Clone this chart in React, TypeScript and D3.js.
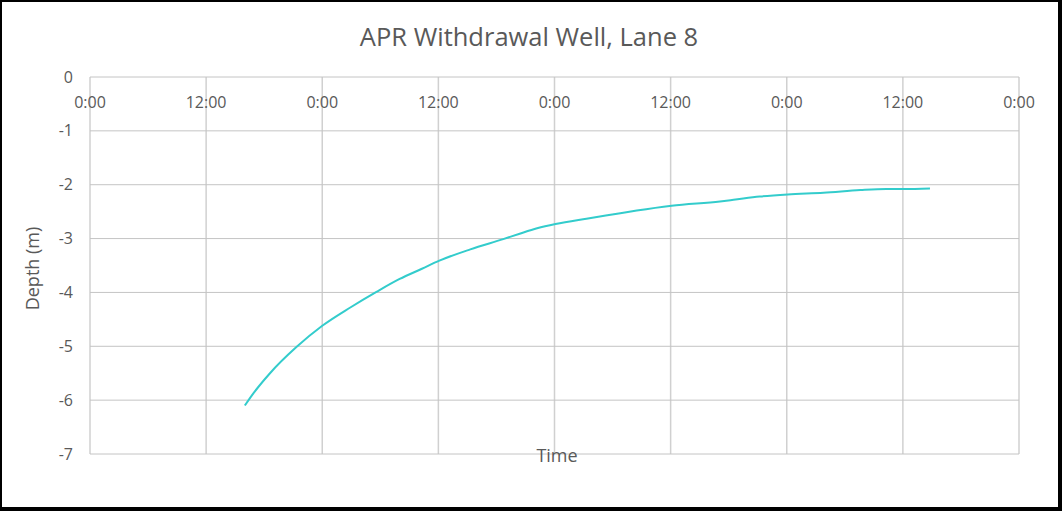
import React from "react";
import * as d3 from "d3";

const TITLE = "APR Withdrawal Well, Lane 8";
const X_TITLE = "Time";
const Y_TITLE = "Depth (m)";

// hours since the first 0:00 tick
const hours = [16.0, 16.9, 18.6, 21.3, 24.0, 26.9, 29.6, 32.0, 34.3, 36.1, 39.3, 42.7, 44.4, 46.2, 48.1, 51.3, 54.8, 56.5, 60.1, 65.1, 66.5, 69.2, 72.1, 75.8, 79.6, 82.3, 84.1, 86.8];
const depth = [-6.1, -5.87, -5.5, -5.02, -4.62, -4.28, -3.99, -3.75, -3.56, -3.41, -3.2, -3.01, -2.91, -2.81, -2.73, -2.63, -2.53, -2.48, -2.39, -2.31, -2.28, -2.22, -2.18, -2.15, -2.1, -2.08, -2.08, -2.07];

const yTicks = [0, -1, -2, -3, -4, -5, -6, -7];
const xTickHours = [0, 12, 24, 36, 48, 60, 72, 84, 96];

const base = new Date(2020, 0, 1, 0, 0, 0);
const toDate = (h: number) => new Date(base.getTime() + h * 3600 * 1000);

export default function App() {
  const W = 1062, H = 511;
  const left = 90, right = 1019, top = 77, bottom = 454;
  const x = d3.scaleTime().domain([toDate(0), toDate(96)]).range([left, right]);
  const y = d3.scaleLinear().domain([-7, 0]).range([bottom, top]);
  const fmt = d3.timeFormat("%-H:%M");
  const pts = hours.map((h, i) => [toDate(h), depth[i]] as [Date, number]);
  const line = d3.line<[Date, number]>().x(d => x(d[0])).y(d => y(d[1])).curve(d3.curveMonotoneX);
  const textColor = "#595959";
  const font = "'Open Sans', sans-serif";
  return (
    <svg width={W} height={H} style={{ position: "absolute", left: 0, top: 0 }} fontFamily={font}>
      <rect x={0} y={0} width={W} height={H} fill="#000" />
      <rect x={2} y={2} width={1056} height={505} fill="#fff" />
      {xTickHours.map(h => (
        <line key={"vx" + h} x1={x(toDate(h))} x2={x(toDate(h))} y1={top} y2={bottom} stroke="#d0d0d0" strokeWidth={1.5} />
      ))}
      {yTicks.map(v => (
        <line key={"hy" + v} x1={left} x2={right} y1={y(v)} y2={y(v)} stroke="#c4c4c4" strokeWidth={1} />
      ))}
      {yTicks.map(v => (
        <text key={"ty" + v} x={73} y={y(v)} dy="0.35em" textAnchor="end" fontSize={16} fill={textColor}>{v}</text>
      ))}
      {xTickHours.map(h => (
        <text key={"tx" + h} x={x(toDate(h))} y={108} textAnchor="middle" fontSize={16} fill={textColor}>{fmt(toDate(h))}</text>
      ))}
      <path d={line(pts) || ""} fill="none" stroke="#33CCCC" strokeWidth={2} />
      <text x={529} y={46} textAnchor="middle" fontSize={25.5} fill={textColor}>{TITLE}</text>
      <text x={557} y={462} textAnchor="middle" fontSize={18} fill={textColor}>{X_TITLE}</text>
      <text transform={`translate(39,${(top + bottom) / 2 + 3}) rotate(-90)`} textAnchor="middle" fontSize={18} fill={textColor}>{Y_TITLE}</text>
    </svg>
  );
}
